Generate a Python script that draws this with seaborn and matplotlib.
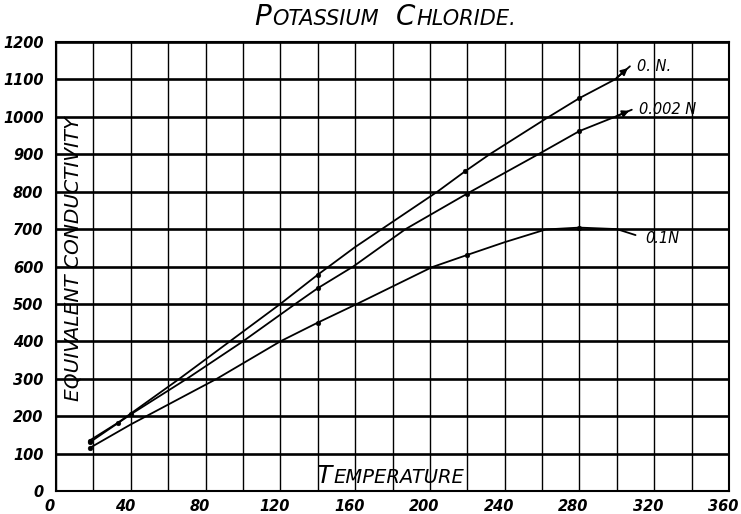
import matplotlib
matplotlib.use("Agg")
import matplotlib.pyplot as plt
import matplotlib.transforms as mtransforms
import numpy as np
import pandas as pd
import seaborn as sns
from matplotlib.offsetbox import TextArea, HPacker, AnchoredOffsetbox

# Curvas (temperatura, conductividad equivalente)
temp_0n = [18, 33, 66, 93, 120, 140, 160, 204, 219, 232, 262, 280, 299, 307]
cond_0n = [135, 182, 300, 400, 500, 578, 652, 800, 855, 900, 995, 1050, 1100, 1135]

temp_002n = [18, 40, 70, 100, 128, 140, 159, 187, 220, 258, 280, 299, 308]
cond_002n = [130, 205, 300, 400, 500, 542, 600, 700, 795, 900, 962, 1000, 1019]

temp_01n = [18, 40, 86, 120, 140, 161, 201, 220, 240, 262, 280, 300, 310]
cond_01n = [115, 178, 300, 400, 450, 500, 598, 631, 665, 699, 704, 700, 684]

# Puntos medidos (marcas sobre las curvas)
pts_temp = [18, 33, 140, 219, 280, 18, 40, 140, 220, 280, 18, 140, 220, 280]
pts_cond = [135, 182, 578, 855, 1050, 130, 205, 542, 795, 962, 115, 450, 631, 704]

series_names = ["0. N.", "0.002 N", "0.1N"]
x_ticks = np.arange(0, 361, 40)
x_grid = np.arange(0, 361, 20)
y_ticks = np.arange(0, 1201, 100)

sns.set_style("white")
plt.rcParams["font.family"] = ["DejaVu Sans"]
plt.rcParams["text.color"] = "black"
plt.rcParams["xtick.color"] = "black"
plt.rcParams["ytick.color"] = "black"

df = pd.concat([
    pd.DataFrame({"temp": temp_0n, "cond": cond_0n, "serie": series_names[0]}),
    pd.DataFrame({"temp": temp_002n, "cond": cond_002n, "serie": series_names[1]}),
    pd.DataFrame({"temp": temp_01n, "cond": cond_01n, "serie": series_names[2]}),
])
pts = pd.DataFrame({"temp": pts_temp, "cond": pts_cond})

fig = plt.figure(figsize=(7.41, 5.14), dpi=100)
ax = fig.add_axes([0.0756, 0.0447, 0.9082, 0.8736])

sns.lineplot(data=df, x="temp", y="cond", units="serie", estimator=None,
             sort=False, color="black", lw=1.3, ax=ax, zorder=3)
sns.scatterplot(data=pts, x="temp", y="cond", color="black", s=12,
                marker="o", edgecolor="black", ax=ax, zorder=4)

# flechas al final de las dos curvas superiores
for tt, cc in [(temp_0n, cond_0n), (temp_002n, cond_002n)]:
    ax.annotate("", xy=(tt[-1], cc[-1]), xytext=(tt[-2], cc[-2]),
                arrowprops=dict(arrowstyle="-|>", color="black", lw=1.3,
                                mutation_scale=10), zorder=4)

ax.text(temp_0n[-1] + 4, cond_0n[-1], series_names[0], fontsize=10.5,
        fontstyle="italic", va="center", ha="left")
ax.text(temp_002n[-1] + 4, cond_002n[-1], series_names[1], fontsize=10.5,
        fontstyle="italic", va="center", ha="left")
ax.text(temp_01n[-1] + 5, cond_01n[-1] - 8, series_names[2], fontsize=10.5,
        fontstyle="italic", va="center", ha="left")

ax.set_xlim(0, 360)
ax.set_ylim(0, 1200)
ax.set_xticks(x_ticks, labels=[str(v) for v in x_ticks], fontstyle="italic",
              fontweight="bold", fontsize=10.5)
ax.set_xticks(x_grid, minor=True)
ax.set_yticks(y_ticks, labels=[str(v) for v in y_ticks], fontstyle="italic",
              fontweight="bold", fontsize=10.5)
ax.tick_params(which="both", length=0)
ax.tick_params(axis="x", pad=6)
ax.tick_params(axis="y", pad=9)
# etiquetas del eje x algo corridas a la izquierda, como en el dibujo
shift = mtransforms.ScaledTranslation(-6 / 100, 0, fig.dpi_scale_trans)
for lab in ax.get_xticklabels():
    lab.set_transform(lab.get_transform() + shift)
ax.grid(which="both", axis="x", color="black", lw=1.0)
ax.grid(axis="y", color="black", lw=1.9)
ax.set_xlabel("")
ax.set_ylabel("")
for s in ax.spines.values():
    s.set_color("black")
    s.set_linewidth(1.5)


def small_caps(text, big, small, sep):
    words = []
    for w in text.split(" "):
        parts = [TextArea(w[0], textprops=dict(fontsize=big, fontstyle="italic")),
                 TextArea(w[1:], textprops=dict(fontsize=small, fontstyle="italic"))]
        words.append(HPacker(children=parts, align="baseline", pad=0, sep=1))
    return HPacker(children=words, align="baseline", pad=0, sep=sep)


title = AnchoredOffsetbox(loc="center", child=small_caps("POTASSIUM CHLORIDE.", 20, 15, 12),
                          pad=0, borderpad=0, frameon=False,
                          bbox_to_anchor=(385 / 741, 1 - 17 / 514),
                          bbox_transform=fig.transFigure)
ax.add_artist(title)

xlab = AnchoredOffsetbox(loc="center", child=small_caps("TEMPERATURE", 18, 14, 0),
                         pad=0, borderpad=0, frameon=False,
                         bbox_to_anchor=(179, 40), bbox_transform=ax.transData)
ax.add_artist(xlab)

ax.text(9, 620, "EQUIVALENT CONDUCTIVITY", rotation=90, fontsize=14.5,
        fontstyle="italic", ha="center", va="center", zorder=5)

fig.savefig("out.png", dpi=100)
